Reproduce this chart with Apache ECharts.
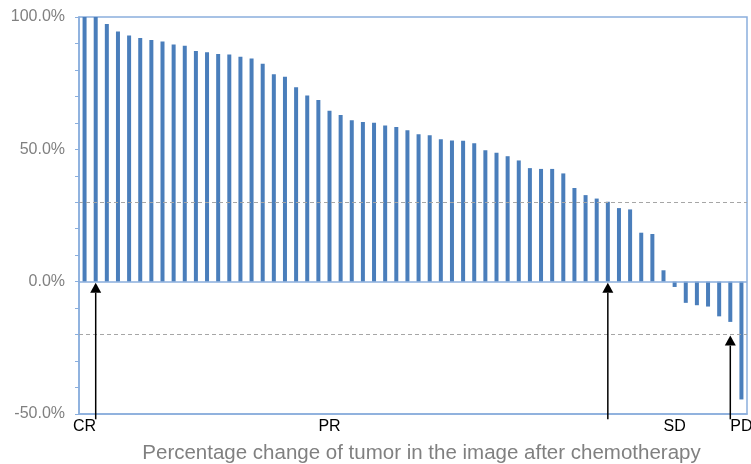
<!DOCTYPE html>
<html>
<head>
<meta charset="utf-8">
<script src="https://cdn.jsdelivr.net/npm/echarts@6/dist/echarts.min.js"></script>
<style>
  html, body { margin: 0; padding: 0; background: #fff; }
  #chart { width: 751px; height: 464px; }
</style>
</head>
<body>
<div id="chart"></div>
<script>
// percentage change per patient, sorted
const changeValues = [
  100, 100, 97.4, 94.5, 93.0, 92.1, 91.3, 90.7, 89.6, 89.1,
  87.2, 86.7, 86.0, 85.8, 85.0, 84.3, 82.3, 78.4, 77.4, 73.5,
  70.3, 68.6, 64.6, 63.0, 61.0, 60.3, 60.0, 59.0, 58.4, 57.2,
  55.7, 55.3, 53.8, 53.3, 53.2, 52.3, 49.7, 48.7, 47.4, 45.8,
  42.9, 42.6, 42.6, 40.9, 35.4, 32.7, 31.4, 30.2, 27.8, 27.3,
  18.5, 18.0, 4.3, -2.0, -8.0, -8.9, -9.4, -13.1, -15.2, -44.5
];
const categories = changeValues.map((v, i) => String(i + 1));

// response group labels under the axis
const responseIndex = [0, 22, 53, 59];
const responseNames = ["CR", "PR", "SD", "PD"];

// threshold lines
const thresholds = [30, -20];

// arrows: [category index, tail value, tip value]
const arrows = [
  [1, -52, 0],
  [47, -52, 0],
  [58, -52, -20]
];

const yTickLabels = [-50, 0, 50, 100];

const barColor = "#4a7ebb";
const frameColor = "#8aaedd";

const chart = echarts.init(document.getElementById("chart"));

chart.setOption({
  animation: false,
  grid: {
    left: 79,
    right: 4,
    top: 17,
    bottom: 50,
    outerBoundsMode: "none",
    show: true,
    borderColor: frameColor,
    borderWidth: 1.5
  },
  xAxis: {
    type: "category",
    data: categories,
    name: "Percentage change of tumor in the image after chemotherapy",
    nameLocation: "middle",
    nameGap: 29,
    nameTextStyle: {
      color: "#808080",
      fontSize: 20.5,
      padding: [0, 0, 0, 17],
      fontFamily: "Liberation Sans, Arial, sans-serif"
    },
    axisLine: { onZero: false, lineStyle: { color: frameColor, width: 1.5 } },
    axisTick: { show: false },
    axisLabel: {
      interval: 0,
      margin: 5,
      color: "#000",
      fontSize: 16,
      fontFamily: "Liberation Sans, Arial, sans-serif",
      formatter: (val, idx) => {
        const k = responseIndex.indexOf(idx);
        return k >= 0 ? responseNames[k] : "";
      }
    }
  },
  yAxis: {
    type: "value",
    min: -50,
    max: 100,
    interval: 10,
    axisLine: { show: true, lineStyle: { color: frameColor, width: 1.5 } },
    axisTick: { show: true, length: 4, lineStyle: { color: frameColor } },
    splitLine: { show: false },
    axisLabel: {
      margin: 14,
      color: "#808080",
      fontSize: 16,
      fontFamily: "Liberation Sans, Arial, sans-serif",
      formatter: v => (yTickLabels.indexOf(v) >= 0 ? v.toFixed(1) + "%" : "")
    }
  },
  series: [
    {
      type: "bar",
      data: changeValues,
      barWidth: 4,
      itemStyle: { color: barColor },
      markLine: {
        silent: true,
        symbol: "none",
        label: { show: false },
        data: [
          ...thresholds.map(t => ({
            yAxis: t,
            lineStyle: { color: "#a6a6a6", type: [4, 3], width: 1.2 }
          })),
          { yAxis: 0, lineStyle: { color: frameColor, type: "solid", width: 1.5 } }
        ]
      }
    },
    {
      type: "custom",
      clip: false,
      z: 5,
      data: arrows,
      renderItem: (params, api) => {
        const tail = api.coord([api.value(0), api.value(1)]);
        const tip = api.coord([api.value(0), api.value(2)]);
        const headH = 11, headW = 5.5;
        return {
          type: "group",
          children: [
            {
              type: "line",
              shape: { x1: tail[0], y1: tail[1], x2: tip[0], y2: tip[1] + headH },
              style: { stroke: "#000", lineWidth: 1.5 }
            },
            {
              type: "polygon",
              shape: {
                points: [
                  [tip[0], tip[1] + 1],
                  [tip[0] - headW, tip[1] + headH],
                  [tip[0] + headW, tip[1] + headH]
                ]
              },
              style: { fill: "#000" }
            }
          ]
        };
      }
    }
  ]
});
</script>
</body>
</html>
